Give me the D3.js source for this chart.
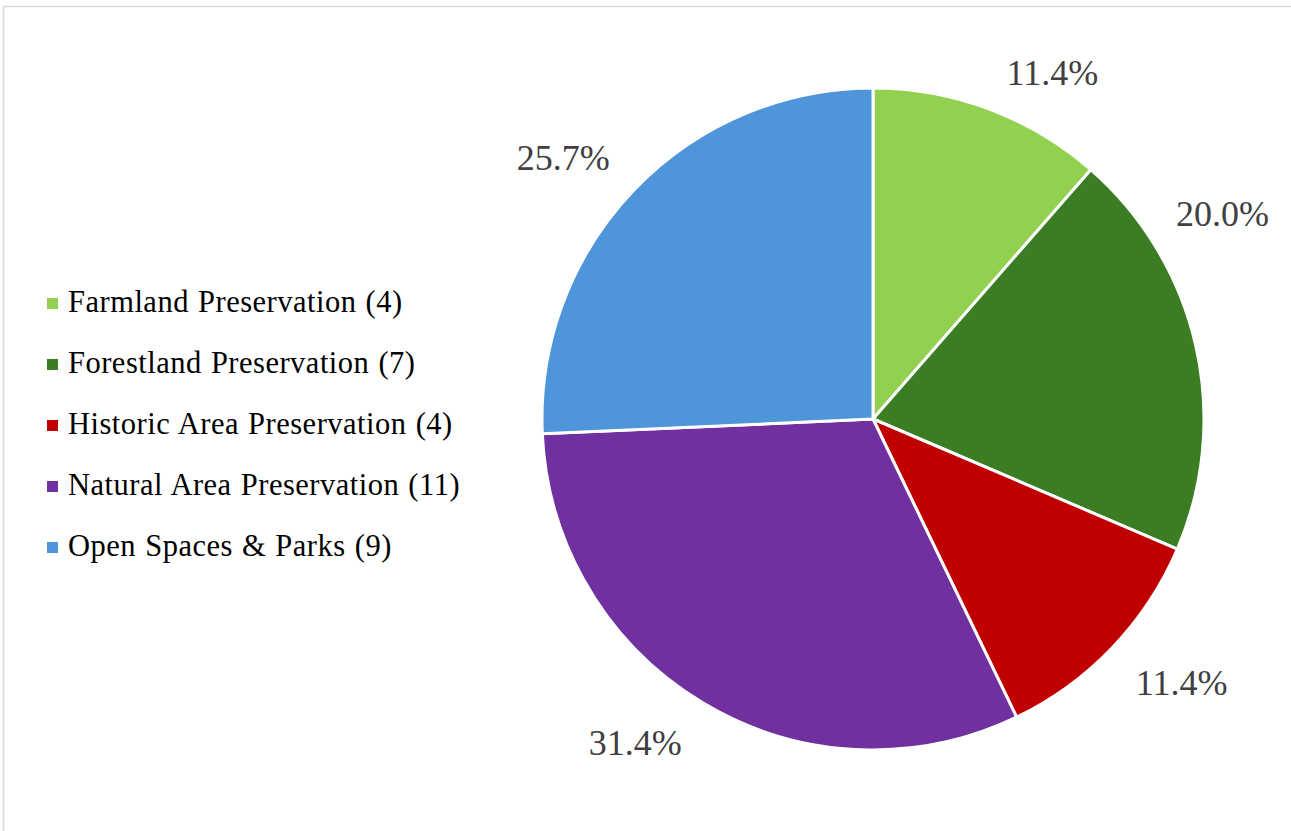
<!DOCTYPE html>
<html>
<head>
<meta charset="utf-8">
<script src="https://cdn.jsdelivr.net/npm/d3@7"></script>
<style>
  body { margin: 0; background: #fff; }
  svg { display: block; }
</style>
</head>
<body>
<div id="chart"></div>
<script>
// data
var categories = ["Farmland Preservation", "Forestland Preservation", "Historic Area Preservation",
                  "Natural Area Preservation", "Open Spaces & Parks"];
var counts = [4, 7, 4, 11, 9];
var colors = ["#92d050", "#3b7d23", "#c00000", "#7030a0", "#4e95d9"];

// label placement tweaks (excel "best fit" moves some labels off the mid angle)
var labelShift = [6.8, -17.5, -3.2, 5.4, -3.6];   // degrees
var labelRadius = [390, 405, 406, 402, 405];

var width = 1291, height = 831;
var cx = 873, cy = 419, radius = 331;

var svg = d3.select("#chart").append("svg")
    .attr("width", width)
    .attr("height", height);

// chart area border
svg.append("rect")
    .attr("x", 3.5).attr("y", 6.5)
    .attr("width", width + 10).attr("height", height + 10)
    .attr("fill", "white")
    .attr("stroke", "#d9d9d9")
    .attr("stroke-width", 1.5);

var total = d3.sum(counts);
var data = categories.map(function(c, i) { return { name: c, value: counts[i], i: i }; });

var pie = d3.pie().sort(null).value(function(d) { return d.value; });
var arc = d3.arc().innerRadius(0).outerRadius(radius);
var arcs = pie(data);

var g = svg.append("g").attr("transform", "translate(" + cx + "," + cy + ")");

g.selectAll("path.slice")
    .data(arcs)
    .enter()
    .append("path")
    .attr("class", "slice")
    .attr("d", arc)
    .attr("fill", function(d) { return colors[d.data.i]; })
    .attr("stroke", "white")
    .attr("stroke-width", 3)
    .attr("stroke-linejoin", "round");

var fmt = d3.format(".1%");

g.selectAll("text.pct")
    .data(arcs)
    .enter()
    .append("text")
    .attr("class", "pct")
    .attr("x", function(d) {
        var a = (d.startAngle + d.endAngle) / 2 + labelShift[d.data.i] * Math.PI / 180;
        return labelRadius[d.data.i] * Math.sin(a);
    })
    .attr("y", function(d) {
        var a = (d.startAngle + d.endAngle) / 2 + labelShift[d.data.i] * Math.PI / 180;
        return -labelRadius[d.data.i] * Math.cos(a) + 12;
    })
    .attr("text-anchor", "middle")
    .style("font-family", "'Liberation Serif', 'Times New Roman', serif")
    .style("font-size", "36px")
    .attr("fill", "#404040")
    .text(function(d) { return fmt(d.data.value / total); });

// legend
var legend = svg.append("g")
    .selectAll("g")
    .data(data)
    .enter()
    .append("g")
    .attr("transform", function(d) { return "translate(47," + (312 + d.i * 61) + ")"; });

legend.append("rect")
    .attr("x", 0).attr("y", -14)
    .attr("width", 11).attr("height", 11)
    .attr("fill", function(d) { return colors[d.i]; });

legend.append("text")
    .attr("x", 21).attr("y", 0)
    .style("font-family", "'Liberation Serif', 'Times New Roman', serif")
    .style("font-size", "30.5px")
    .style("letter-spacing", "0.5px")
    .style("word-spacing", "1px")
    .attr("fill", "#000")
    .text(function(d) { return d.name + " (" + d.value + ")"; });
</script>
</body>
</html>
